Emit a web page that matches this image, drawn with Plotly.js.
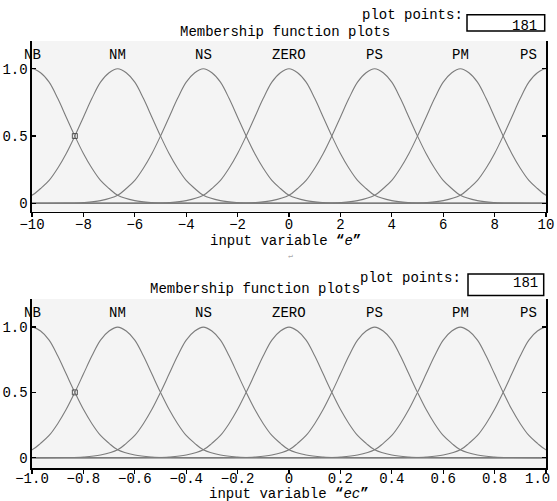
<!DOCTYPE html>
<html><head><meta charset="utf-8">
<script src="https://cdn.plot.ly/plotly-3.0.1.min.js"></script>
<style>html,body{margin:0;padding:0;background:#fff}</style>
</head><body><div id="chart" style="width:557px;height:501px"></div>
<script>
// ---- data ----
const mfNames = ["NB", "NM", "NS", "ZERO", "PS", "PM", "PS"];
const centersE = [-10, -6.667, -3.333, 0, 3.333, 6.667, 10];
const centersEC = [-1, -0.6667, -0.3333, 0, 0.3333, 0.6667, 1];
// one membership-function shape (all seven are identical), offset measured in units of centre spacing
const profileOffset = [0, 0.1, 0.2, 0.3, 0.4, 0.5, 0.6, 0.7, 0.8, 0.9, 1.0, 1.2, 1.4, 1.6, 2.0, 7.0];
const profileValue  = [1, 0.97, 0.9, 0.78, 0.64, 0.5, 0.37, 0.26, 0.17, 0.11, 0.06, 0.02, 0.005, 0.001, 0, 0];
const ticksE = [-10, -8, -6, -4, -2, 0, 2, 4, 6, 8, 10];
const tickTextE = ["−10", "−8", "−6", "−4", "−2", "0", "2", "4", "6", "8", "10"];
const ticksEC = [-1, -0.8, -0.6, -0.4, -0.2, 0, 0.2, 0.4, 0.6, 0.8, 1];
const tickTextEC = ["−1.0", "−0.8", "−0.6", "−0.4", "−0.2", "0", "0.2", "0.4", "0.6", "0.8", "1.0\u00a0\u00a0"];
const yTicks = [0, 0.5, 1];
const yTickText = ["0", "0.5", "1.0"];
const selectedXE = [-8.333], selectedYE = [0.5];
const selectedXEC = [-0.8333], selectedYEC = [0.5];
const plotPoints = "181";

// ---- build ----
const FONT = "Liberation Mono, DejaVu Sans Mono, monospace";
const CURVE = "#7c7c7c";
const L = 32, R = 11, T = 41, B = 33, W = 557, H = 501;
const pw = W - L - R, ph = H - T - B;
const px = v => (v - L) / pw;
const py = v => (H - B - v) / ph;

function mfTraces(centers, xa, ya) {
  const step = centers[1] - centers[0];
  const out = [];
  centers.forEach(c => {
    const xs = [], ys = [];
    for (let i = profileOffset.length - 1; i >= 1; i--) { xs.push(c - profileOffset[i] * step); ys.push(profileValue[i]); }
    for (let i = 0; i < profileOffset.length; i++) { xs.push(c + profileOffset[i] * step); ys.push(profileValue[i]); }
    out.push({x: xs, y: ys, xaxis: xa, yaxis: ya, mode: "lines", type: "scatter",
      line: {color: CURVE, width: 1.1, shape: "spline"}, hoverinfo: "skip", showlegend: false});
  });
  return out;
}
const traces = [
  ...mfTraces(centersE, "x", "y"),
  ...mfTraces(centersEC, "x2", "y2"),
  {x: selectedXE, y: selectedYE, xaxis: "x", yaxis: "y", mode: "markers", type: "scatter", showlegend: false,
    marker: {symbol: "square-open", size: 5, color: "#555", line: {width: 1}}},
  {x: selectedXEC, y: selectedYEC, xaxis: "x2", yaxis: "y2", mode: "markers", type: "scatter", showlegend: false,
    marker: {symbol: "square-open", size: 5, color: "#555", line: {width: 1}}}
];

const topDom = [py(211.5), 1];
const botDom = [0, py(299)];
function xAx(vals, text, standoff) {
  return {range: [vals[0], vals[vals.length - 1]], tickvals: vals, ticktext: text, ticks: "outside", ticklen: 4,
    tickcolor: "#000", tickwidth: 1.3, showline: true, linecolor: "#000", linewidth: 1.6, showgrid: false, zeroline: false,
    ticklabelstandoff: standoff, ticklabeloverflow: "allow",
    tickfont: {family: FONT, size: 14, color: "#000"}, fixedrange: true};
}
function xTop(vals, over, anchor) {
  return {range: [vals[0], vals[vals.length - 1]], tickvals: vals, overlaying: over, anchor: anchor, side: "top",
    ticks: "inside", ticklen: 4, tickcolor: "#000", tickwidth: 1.3, showticklabels: false, showline: true,
    linecolor: "#000", linewidth: 1.6, showgrid: false, zeroline: false};
}
function yAx(dom, range) {
  return {domain: dom, range: range, tickvals: yTicks, ticktext: yTickText, ticks: "inside", ticklen: 4,
    tickcolor: "#000", tickwidth: 1.3, mirror: "ticks", showline: true, linecolor: "#000", linewidth: 1.6,
    showgrid: false, zeroline: false, tickfont: {family: FONT, size: 14, color: "#000"}, fixedrange: true};
}

const ann = [];
function txt(text, x, y, xanchor, size, color) {
  ann.push({text: text, xref: "paper", yref: "paper", x: px(x), y: py(y), xanchor: xanchor || "center",
    yanchor: "middle", showarrow: false, font: {family: FONT, size: size || 14, color: color || "#000"}});
}
function labels(centers, xa, ya, yv) {
  centers.forEach((c, i) => {
    const last = i === centers.length - 1;
    ann.push({text: mfNames[i], xref: xa, yref: ya, x: c, y: yv, xanchor: last ? "right" : "center",
      xshift: last ? -7 : 0, yanchor: "middle", showarrow: false, font: {family: FONT, size: 14, color: "#000"}});
  });
}
labels(centersE, "x", "y", 1.105);
labels(centersEC, "x2", "y2", 1.108);
txt("Membership function plots", 285, 32);
txt("Membership function plots", 255, 289);
txt("plot points:", 465, 15, "right");
txt("plot points:", 463, 277.5, "right");
txt(plotPoints, 539, 25.5, "right");
txt(plotPoints, 540, 283, "right");
txt("input variable <b>“</b><i>e</i><b>”</b>", 285, 241);
txt("input variable <b>“</b><i>ec</i><b>”</b>", 289, 494);
txt("↵", 290, 255, "center", 8, "#aaa");

const shapes = [
  {type: "rect", xref: "paper", yref: "paper", x0: px(467), x1: px(544.7), y0: py(31), y1: py(14.7),
    line: {color: "#000", width: 1.5}, fillcolor: "#fff", layer: "below"},
  {type: "rect", xref: "paper", yref: "paper", x0: px(468), x1: px(543.7), y0: py(295.5), y1: py(274),
    line: {color: "#000", width: 1.5}, fillcolor: "#fff", layer: "below"}
];

const layout = {
  width: W, height: H, margin: {l: L, r: R, t: T, b: B}, paper_bgcolor: "#fff", plot_bgcolor: "#f4f4f4",
  showlegend: false,
  xaxis: Object.assign(xAx(ticksE, tickTextE, -5), {anchor: "y", domain: [0, 1]}),
  yaxis: Object.assign(yAx(topDom, [-0.061, 1.206]), {anchor: "x"}),
  xaxis2: Object.assign(xAx(ticksEC, tickTextEC, -7), {anchor: "y2", domain: [0, 1]}),
  yaxis2: Object.assign(yAx(botDom, [-0.079, 1.215]), {anchor: "x2"}),
  xaxis3: xTop(ticksE, "x", "y"),
  xaxis4: xTop(ticksEC, "x2", "y2"),
  annotations: ann, shapes: shapes
};
Plotly.newPlot("chart", traces, layout, {displayModeBar: false, staticPlot: true});
</script></body></html>
